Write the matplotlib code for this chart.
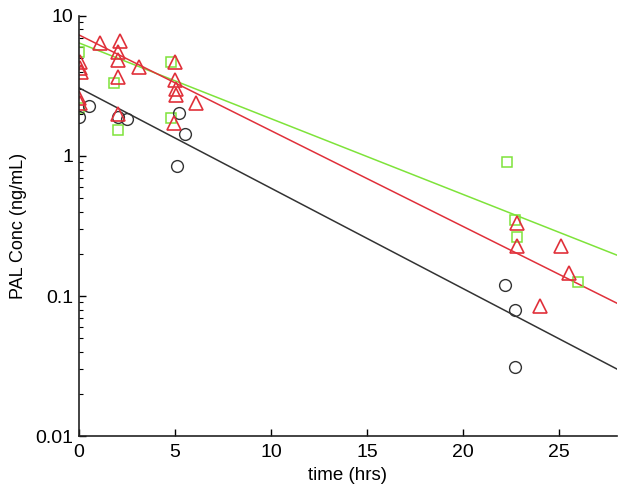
import numpy as np
import matplotlib
matplotlib.use("Agg")
import matplotlib.pyplot as plt

plt.rcParams['font.family'] = ['Liberation Sans', 'DejaVu Sans']

# observed concentrations, three groups
black_t = [0.0, 0.5, 2.0, 2.5, 5.2, 5.5, 5.1, 22.2, 22.7, 22.7]
black_c = [1.90, 2.28, 1.90, 1.84, 2.03, 1.44, 0.85, 0.12, 0.079, 0.031]

green_t = [0.0, 0.0, 1.8, 2.0, 4.8, 4.8, 22.3, 22.7, 22.8, 26.0]
green_c = [5.5, 2.2, 3.32, 1.53, 4.69, 1.87, 0.906, 0.349, 0.264, 0.126]

red_t = [0.05, 0.05, 0.1, 0.0, 0.05, 1.1, 2.15, 2.05, 2.0, 3.1, 2.0, 2.0,
         5.0, 5.0, 5.05, 5.05, 6.1, 4.95, 22.8, 22.8, 25.1, 25.5, 24.0]
red_c = [4.7, 4.25, 4.0, 2.6, 2.4, 6.4, 6.6, 5.5, 4.8, 4.33, 3.66, 2.0,
         4.7, 3.49, 3.01, 2.73, 2.39, 1.72, 0.332, 0.228, 0.228, 0.146, 0.085]

# fitted mono-exponential lines: (C0, k)
fit_green = (6.4, 0.1245)
fit_red = (7.3, 0.1574)
fit_black = (3.06, 0.165)

col_black = '#333333'
col_green = '#7ee33a'
col_red = '#e0303a'

fig = plt.figure(figsize=(6.23, 4.95), dpi=100)
ax = fig.add_axes([0.127, 0.119, 0.863, 0.849])

tt = np.linspace(0, 28, 200)
for (c0, k), col in [(fit_green, col_green), (fit_red, col_red), (fit_black, col_black)]:
    ax.plot(tt, c0 * np.exp(-k * tt), color=col, lw=1.1)

ax.plot(green_t, green_c, 's', mfc='none', mec=col_green, ms=6.5, mew=1.1)
ax.plot(black_t, black_c, 'o', mfc='none', mec=col_black, ms=8.5, mew=1.0)
ax.plot(red_t, red_c, '^', mfc='none', mec=col_red, ms=9.5, mew=1.2)

ax.set_yscale('log')
ax.set_xlim(0, 28)
ax.set_ylim(0.01, 10)
ax.set_xticks([0, 5, 10, 15, 20, 25])
ax.set_yticks([0.01, 0.1, 1, 10])
ax.set_yticklabels(['0.01', '0.1', '1', '10'])
ax.tick_params(which='both', direction='in', labelsize=14)
ax.tick_params(which='major', length=5, width=1)
ax.tick_params(which='minor', length=3, width=0.8)
ax.tick_params(axis='x', pad=6)
ax.tick_params(axis='y', pad=4)
for s in ['top', 'right']:
    ax.spines[s].set_visible(False)
for s in ['left', 'bottom']:
    ax.spines[s].set_linewidth(1.2)
    ax.spines[s].set_color('#222222')

ax.set_xlabel('time (hrs)', fontsize=13.5, labelpad=4)
ax.set_ylabel('PAL Conc (ng/mL)', fontsize=13, labelpad=6)

fig.savefig('out.png', dpi=100)
